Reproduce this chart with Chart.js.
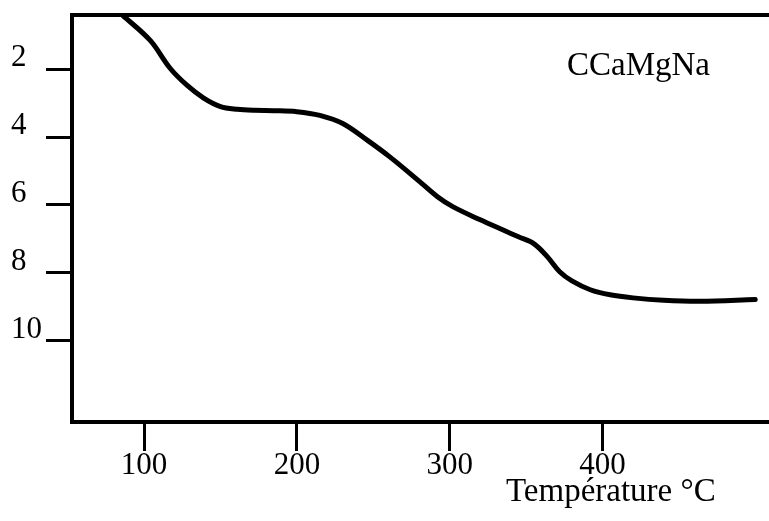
<!DOCTYPE html>
<html>
<head>
<meta charset="utf-8">
<title>CCaMgNa</title>
<script src="https://cdn.jsdelivr.net/npm/chart.js@4.4.1/dist/chart.umd.min.js"></script>
<style>
    html, body { margin: 0; padding: 0; background: #fff; }
    canvas { display: block; }
</style>
</head>
<body>
<canvas id="tgChart" width="769" height="521"></canvas>
<script>
// Temperature (°C) and weight loss
const temperatures = [86, 104, 117, 128, 139, 150, 161, 172, 185, 200, 215, 230, 246, 261, 279, 292, 302, 320, 335, 345, 355, 364, 372, 380, 392, 405, 420, 440, 464, 500];
const weightLoss = [0.41, 1.15, 1.97, 2.47, 2.85, 3.1, 3.18, 3.21, 3.22, 3.25, 3.36, 3.6, 4.09, 4.59, 5.26, 5.76, 6.05, 6.44, 6.74, 6.94, 7.14, 7.53, 7.97, 8.24, 8.5, 8.65, 8.74, 8.81, 8.84, 8.79];

// Tick labels
const xTicks = [100, 200, 300, 400];
const yTicks = [2, 4, 6, 8, 10];

const sampleName = 'CCaMgNa';
const xTitle = 'Température °C';

const SERIF = '"Liberation Serif", "DejaVu Serif", serif';

// Free text labels (sample name and axis title)
const textLabels = {
    id: 'textLabels',
    afterDraw(chart) {
        const ctx = chart.ctx;
        ctx.save();
        ctx.fillStyle = '#000';
        ctx.textAlign = 'left';
        ctx.textBaseline = 'alphabetic';
        ctx.font = '33px ' + SERIF;
        ctx.fillText(sampleName, 567, 75);
        ctx.fillText(xTitle, 506, 501);
        ctx.restore();
    }
};

const points = temperatures.map((t, i) => ({ x: t, y: weightLoss[i] }));

new Chart(document.getElementById('tgChart'), {
    type: 'line',
    data: {
        datasets: [{
            data: points,
            borderColor: '#000',
            borderWidth: 5,
            borderCapStyle: 'round',
            borderJoinStyle: 'round',
            pointRadius: 0,
            tension: 0.35,
            fill: false
        }]
    },
    options: {
        responsive: false,
        animation: false,
        layout: { padding: { top: 15, right: 0, left: 11, bottom: 0 } },
        plugins: {
            legend: { display: false },
            tooltip: { enabled: false }
        },
        scales: {
            x: {
                type: 'linear',
                position: 'bottom',
                min: 52.8,
                max: 509,
                afterBuildTicks: (scale) => { scale.ticks = xTicks.map(v => ({ value: v })); },
                afterFit: (scale) => { scale.height = 99; scale.paddingLeft = 0; scale.paddingRight = 0; },
                border: { display: true, color: '#000', width: 4 },
                grid: { drawOnChartArea: false, drawTicks: true, tickLength: 29, tickWidth: 3, tickColor: '#000' },
                ticks: { color: '#000', font: { family: SERIF, size: 31 }, padding: -4, maxRotation: 0 }
            },
            xTop: {
                type: 'linear',
                position: 'top',
                min: 52.8,
                max: 509,
                afterFit: (scale) => { scale.height = 0; scale.paddingLeft = 0; scale.paddingRight = 0; },
                border: { display: true, color: '#000', width: 4 },
                grid: { drawOnChartArea: false, drawTicks: false },
                ticks: { display: false }
            },
            y: {
                type: 'linear',
                position: 'left',
                reverse: true,
                min: 0.4,
                max: 12.4,
                afterBuildTicks: (scale) => { scale.ticks = yTicks.map(v => ({ value: v })); },
                afterFit: (scale) => { scale.width = 61; scale.paddingTop = 0; scale.paddingBottom = 0; },
                border: { display: true, color: '#000', width: 4 },
                grid: { drawOnChartArea: false, drawTicks: true, tickLength: 26, tickWidth: 3, tickColor: '#000' },
                ticks: { color: '#000', font: { family: SERIF, size: 31 }, padding: 3, crossAlign: 'far', labelOffset: -11 }
            }
        }
    },
    plugins: [textLabels]
});
</script>
</body>
</html>
